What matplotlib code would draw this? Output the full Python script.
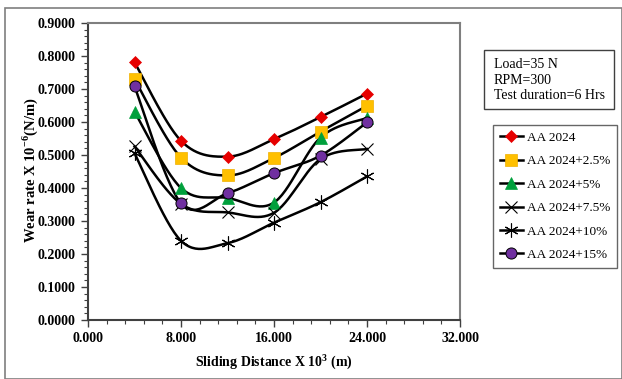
import numpy as np
import matplotlib
matplotlib.use('Agg')
import matplotlib.pyplot as plt
from matplotlib.lines import Line2D
from matplotlib.patches import Rectangle
from matplotlib.ticker import MultipleLocator, FormatStrFormatter

# Sliding distance (x 10^3 m)
distance = [4, 8, 12, 16, 20, 24]

# Wear rate (x 10^-6 N/m) for each composition
aa2024 = [0.781, 0.543, 0.495, 0.548, 0.615, 0.686]
aa2024_2p5 = [0.730, 0.492, 0.438, 0.491, 0.571, 0.649]
aa2024_5 = [0.631, 0.400, 0.370, 0.356, 0.553, 0.612]
aa2024_7p5 = [0.526, 0.352, 0.326, 0.325, 0.488, 0.518]
aa2024_10 = [0.505, 0.240, 0.233, 0.295, 0.357, 0.435]
aa2024_15 = [0.708, 0.354, 0.384, 0.445, 0.498, 0.599]

labels = ['AA 2024', 'AA 2024+2.5%', 'AA 2024+5%', 'AA 2024+7.5%',
          'AA 2024+10%', 'AA 2024+15%']
series = [aa2024, aa2024_2p5, aa2024_5, aa2024_7p5, aa2024_10, aa2024_15]

styles = [
    dict(marker='D', ms=6.5, mfc='#E60000', mec='#E60000', mew=0.5),
    dict(marker='s', ms=8, mfc='#FFC000', mec='#F0B000', mew=0.5),
    dict(marker='^', ms=8, mfc='#00A03C', mec='#00A03C', mew=0.5),
    dict(marker='x', ms=9, mfc='none', mec='black', mew=0.8),
    dict(marker=(6, 2, 0), ms=10, mfc='none', mec='black', mew=0.8),
    dict(marker='o', ms=8, mfc='#7030A0', mec='black', mew=0.7),
]


def smooth(x, y, n=30):
    # Catmull-Rom spline through points, like Excel's smoothed line
    x = np.asarray(x, float)
    y = np.asarray(y, float)
    px = np.concatenate([[x[0]], x, [x[-1]]])
    py = np.concatenate([[y[0]], y, [y[-1]]])
    xs, ys = [], []
    t = np.linspace(0, 1, n)
    for i in range(1, len(px) - 2):
        p0, p1, p2, p3 = [np.array([px[j], py[j]]) for j in (i - 1, i, i + 1, i + 2)]
        c1 = p1 + (p2 - p0) / 6.0
        c2 = p2 - (p3 - p1) / 6.0
        pts = ((1 - t) ** 3)[:, None] * p1 + (3 * (1 - t) ** 2 * t)[:, None] * c1 \
            + (3 * (1 - t) * t ** 2)[:, None] * c2 + (t ** 3)[:, None] * p2
        xs.extend(pts[:, 0])
        ys.extend(pts[:, 1])
    return np.array(xs), np.array(ys)


plt.rcParams['font.family'] = 'Liberation Serif'
plt.rcParams['mathtext.fontset'] = 'custom'
plt.rcParams['mathtext.rm'] = 'Liberation Serif'
plt.rcParams['mathtext.bf'] = 'Liberation Serif:bold'

fig = plt.figure(figsize=(6.22, 3.79), dpi=100)
W, H = 622, 379
ax = fig.add_axes([88 / W, 1 - 320 / H, (460 - 88) / W, (320 - 23) / H])

for vals, st in zip(series, styles):
    sx, sy = smooth(distance, vals)
    ax.plot(sx, sy, color='black', lw=1.8, zorder=2)
    ax.plot(distance, vals, ls='none', zorder=3, **st)

ax.set_xlim(0, 32)
ax.set_ylim(0, 0.9)
ax.xaxis.set_major_locator(MultipleLocator(8))
ax.xaxis.set_minor_locator(MultipleLocator(1.6))
ax.yaxis.set_major_locator(MultipleLocator(0.1))
ax.yaxis.set_minor_locator(MultipleLocator(0.02))
ax.xaxis.set_major_formatter(FormatStrFormatter('%.3f'))
ax.yaxis.set_major_formatter(FormatStrFormatter('%.4f'))
ax.tick_params(which='major', length=5, width=1, color='#404040', labelsize=10, pad=4)
ax.tick_params(which='minor', length=3, width=0.8, color='#404040')
for lab in ax.get_xticklabels() + ax.get_yticklabels():
    lab.set_fontweight('bold')
for sp in ax.spines.values():
    sp.set_color('#7f7f7f')
    sp.set_linewidth(1.5)
ax.spines['left'].set_color('#404040')
ax.spines['bottom'].set_color('#404040')

ax.set_xlabel('Sliding Distance X 10$^{\\mathbf{3}}$ (m)', fontsize=10,
              fontweight='bold', labelpad=5)
ax.set_ylabel('Wear rate X 10$^{\\mathbf{-6}}$(N/m)', fontsize=10.5,
              fontweight='bold')
ax.yaxis.set_label_coords(-0.13, 0.505)

# outer chart border
fig.patches.append(Rectangle((5 / W, 0), 1 - 5 / W - 0.5 / W, 1 - 8 / H,
                             transform=fig.transFigure, fill=False,
                             ec='#7f7f7f', lw=1.2))

# test condition box
fig.patches.append(Rectangle((484 / W, 1 - 109 / H), (614 - 484) / W, (109 - 50) / H,
                             transform=fig.transFigure, fill=False, ec='#404040', lw=1))
fig.text(494 / W, 1 - 80 / H, 'Load=35 N\nRPM=300\nTest duration=6 Hrs',
         fontsize=10, va='center', ha='left', linespacing=1.25)

handles = [Line2D([0], [0], color='black', lw=1.8, **st) for st in styles]
leg = fig.legend(handles, labels, loc='upper left',
                 bbox_to_anchor=(493 / W, 1 - 125 / H), fontsize=9.5,
                 frameon=True, fancybox=False, handlelength=1.8,
                 handletextpad=0.3, labelspacing=0.85, borderpad=0.5,
                 borderaxespad=0)
leg.get_frame().set_edgecolor('#404040')
leg.get_frame().set_linewidth(1)

fig.savefig('out.png', dpi=100)
